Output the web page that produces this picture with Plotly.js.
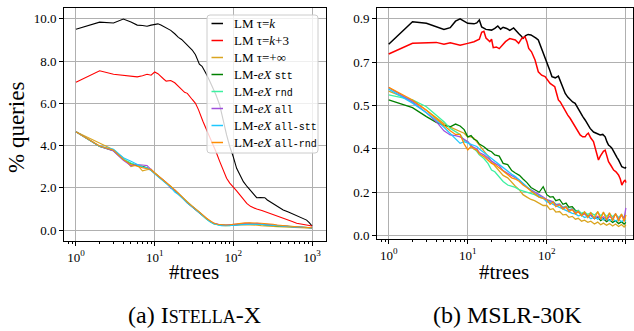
<!DOCTYPE html>
<html>
<head>
<meta charset="utf-8">
<script src="https://cdn.plot.ly/plotly-3.0.1.min.js"></script>
<style>html,body{margin:0;padding:0;background:#fff;}#chart{width:634px;height:331px;}</style>
</head>
<body>
<div id="chart"></div>
<script>
// ---------- Names ----------
const mono = s => '<span style="font-family:Liberation Mono;font-size:10px">' + s + '</span>';
const seriesNames = [
  'LM τ=<i>k</i>',
  'LM τ=<i>k</i>+3',
  'LM τ=+∞',
  'LM-<i>eX</i> ' + mono('stt'),
  'LM-<i>eX</i> ' + mono('rnd'),
  'LM-<i>eX</i> ' + mono('all'),
  'LM-<i>eX</i> ' + mono('all-stt'),
  'LM-<i>eX</i> ' + mono('all-rnd')
];
const seriesColors = ['#000000','#ff0000','#daa520','#008000','#3cf0a0','#a050dc','#1ec8ff','#ff8c00'];

// ---------- (a) ISTELLA-X ----------
const istBlackX = [1,2,3,4,5,6,7,8,9,10,11,12,13,14,15,16,18,20,22,25,28,30,33,35,37,40,43,46,50,55,60,67,75,82,90,95,100,110,120,134,150,163,180,198,220,251,270,292,330,380,430,500,560,637,700,760,853,920,1000];
const istBlackY = [9.50,9.84,9.80,9.99,9.85,9.70,9.68,9.65,9.70,9.73,9.76,9.70,9.64,9.58,9.51,9.45,9.29,9.12,9.02,8.80,8.60,8.52,8.30,8.05,7.85,7.75,7.55,7.34,7.05,6.72,6.40,5.92,5.10,4.50,3.95,3.71,3.45,2.92,2.62,2.29,2.05,1.89,1.70,1.53,1.54,1.53,1.42,1.34,1.20,1.05,0.95,0.85,0.77,0.71,0.62,0.55,0.47,0.35,0.19];

const istRedX = [1,2,3,4,5,6,7,8,9,10,11,12,13,14,16,18,21,24,26,28,30,33,36,41,45,50,55,60,67,75,82,90,100,110,121,135,148,165,180,198,230,260,292,350,431,500,560,637,750,850,1000];
const istRedY = [6.99,7.54,7.37,7.32,7.27,7.25,7.30,7.37,7.33,7.48,7.40,7.29,7.15,7.05,7.08,6.97,6.74,6.52,6.47,6.30,6.18,6.00,5.70,5.15,4.80,4.45,4.05,3.72,3.25,2.85,2.45,2.22,2.05,1.85,1.66,1.45,1.26,1.12,1.05,0.99,0.92,0.85,0.79,0.70,0.55,0.47,0.40,0.32,0.26,0.22,0.19];

const istX = [1,2,3,4,5,6,7,8,9,10,12,14,16,18,20,23,26,30,35,40,45,50,56,63,70,80,90,100,112,125,140,160,180,200,225,250,280,320,360,400,450,500,560,630,700,800,900,1000];
const istInf    = [4.65,4.10,3.80,3.40,3.00,3.08,2.80,2.85,2.88,2.72,2.47,2.27,2.07,1.90,1.75,1.52,1.32,1.13,0.93,0.73,0.56,0.43,0.31,0.25,0.22,0.21,0.21,0.22,0.23,0.24,0.25,0.25,0.24,0.23,0.21,0.19,0.18,0.17,0.16,0.15,0.14,0.13,0.12,0.11,0.10,0.10,0.09,0.09];
const istStt    = [4.65,3.95,3.75,3.33,3.15,3.05,3.02,2.95,2.83,2.69,2.44,2.26,2.04,1.87,1.72,1.49,1.29,1.11,0.91,0.71,0.54,0.41,0.31,0.26,0.23,0.22,0.23,0.25,0.27,0.29,0.30,0.31,0.30,0.29,0.28,0.26,0.24,0.22,0.20,0.19,0.17,0.16,0.15,0.14,0.13,0.12,0.12,0.11];
const istRnd    = [4.65,3.96,3.77,3.36,3.17,3.06,2.98,2.94,2.84,2.70,2.46,2.24,2.06,1.89,1.72,1.51,1.31,1.12,0.92,0.70,0.53,0.40,0.30,0.25,0.22,0.22,0.21,0.24,0.27,0.28,0.31,0.30,0.31,0.29,0.27,0.26,0.25,0.23,0.21,0.20,0.18,0.16,0.16,0.14,0.13,0.12,0.11,0.11];
const istAll    = [4.65,3.96,3.74,3.30,3.05,3.10,3.08,3.05,2.86,2.68,2.45,2.25,1.98,1.90,1.72,1.48,1.30,1.10,0.90,0.71,0.54,0.42,0.33,0.27,0.24,0.23,0.24,0.27,0.25,0.29,0.31,0.33,0.30,0.32,0.29,0.28,0.26,0.24,0.22,0.21,0.19,0.17,0.15,0.14,0.14,0.12,0.12,0.10];
const istAllStt = [4.65,3.97,3.82,3.42,3.25,3.10,2.98,2.93,2.82,2.66,2.40,2.20,2.02,1.80,1.68,1.47,1.27,1.10,0.90,0.70,0.53,0.40,0.30,0.24,0.21,0.20,0.20,0.22,0.23,0.25,0.27,0.28,0.28,0.27,0.26,0.25,0.24,0.22,0.20,0.19,0.17,0.16,0.15,0.14,0.13,0.12,0.11,0.10];
const istAllRnd = [4.65,3.98,3.78,3.33,3.10,3.00,2.95,2.90,2.85,2.70,2.47,2.27,2.07,1.90,1.75,1.52,1.32,1.14,0.94,0.74,0.57,0.44,0.33,0.27,0.25,0.24,0.25,0.28,0.30,0.32,0.34,0.34,0.35,0.33,0.32,0.31,0.30,0.27,0.24,0.22,0.20,0.18,0.17,0.15,0.14,0.13,0.12,0.11];

// ---------- (b) MSLR-30K ----------
const msBlackX = [1,2,3,4,5,6,7,8,9,10,12,13,14,15,17,20,22,24,26,28,31,34,38,41,44,47,50,54,58,63,68,73,78,86,93,100,108,116,128,140,148,155,163,171,184,197,212,228,245,264,284,305,328,353,390,430,473,510,547,575,603,635,665,700,733,770,807,850,889,940,980,1000];
const msBlackY = [0.794,0.888,0.881,0.867,0.856,0.863,0.890,0.900,0.890,0.881,0.879,0.883,0.895,0.866,0.856,0.853,0.860,0.870,0.857,0.865,0.860,0.852,0.862,0.848,0.839,0.830,0.819,0.830,0.835,0.833,0.828,0.820,0.812,0.777,0.745,0.715,0.690,0.660,0.655,0.662,0.640,0.625,0.610,0.590,0.575,0.563,0.555,0.549,0.530,0.514,0.495,0.480,0.460,0.445,0.430,0.425,0.418,0.420,0.410,0.390,0.376,0.370,0.363,0.350,0.335,0.325,0.314,0.300,0.286,0.282,0.280,0.285];

const msRedX = [1,2,4,5,6,8,10,12,14,15,16,17,19,20,21,23,25,27,30,34,40,44,48,53,56,59,64,71,78,86,95,110,126,133,140,148,155,163,171,184,197,212,228,245,264,284,305,320,335,360,389,420,450,475,497,520,547,575,603,650,700,750,807,850,889,940,980,1000];
const msRedY = [0.754,0.798,0.802,0.794,0.800,0.790,0.798,0.805,0.815,0.844,0.848,0.820,0.805,0.815,0.780,0.783,0.776,0.790,0.805,0.818,0.812,0.798,0.818,0.825,0.805,0.777,0.763,0.729,0.680,0.666,0.660,0.632,0.618,0.590,0.563,0.555,0.542,0.530,0.514,0.500,0.487,0.470,0.452,0.435,0.418,0.410,0.410,0.420,0.425,0.405,0.390,0.350,0.314,0.330,0.342,0.350,0.355,0.330,0.307,0.290,0.272,0.265,0.252,0.235,0.210,0.225,0.231,0.220];

const msX = [1,2,3,4,5,6,7,8,9,10,11,12,13,14,16,18,20,22,25,28,32,36,40,45,50,56,63,70,80,90,100,110,120,130,145,160,175,190,210,230,250,275,300,330,360,400,440,480,520,570,620,680,740,810,880,950,1000];
const msInf    = [0.600,0.560,0.520,0.490,0.465,0.450,0.440,0.430,0.425,0.410,0.410,0.404,0.390,0.375,0.350,0.330,0.305,0.290,0.270,0.250,0.240,0.220,0.205,0.190,0.170,0.160,0.150,0.145,0.135,0.125,0.125,0.108,0.112,0.098,0.100,0.086,0.088,0.076,0.080,0.068,0.072,0.060,0.064,0.055,0.060,0.048,0.056,0.045,0.052,0.043,0.050,0.040,0.048,0.038,0.046,0.036,0.045];
const msStt    = [0.563,0.531,0.494,0.470,0.458,0.452,0.463,0.455,0.440,0.410,0.415,0.400,0.395,0.380,0.369,0.355,0.348,0.335,0.330,0.300,0.295,0.270,0.260,0.250,0.235,0.220,0.200,0.190,0.180,0.203,0.170,0.160,0.162,0.145,0.150,0.130,0.135,0.118,0.120,0.105,0.100,0.090,0.095,0.080,0.085,0.070,0.078,0.062,0.070,0.058,0.066,0.055,0.062,0.050,0.058,0.048,0.055];
const msRnd    = [0.584,0.563,0.535,0.500,0.473,0.445,0.430,0.420,0.395,0.390,0.370,0.360,0.350,0.335,0.320,0.300,0.272,0.265,0.245,0.225,0.210,0.205,0.200,0.190,0.185,0.180,0.175,0.170,0.160,0.155,0.150,0.140,0.142,0.130,0.132,0.118,0.122,0.108,0.112,0.100,0.105,0.092,0.098,0.088,0.095,0.085,0.098,0.082,0.095,0.080,0.092,0.078,0.090,0.075,0.088,0.074,0.085];
const msAll    = [0.615,0.555,0.510,0.473,0.435,0.418,0.415,0.410,0.400,0.390,0.375,0.365,0.360,0.345,0.335,0.320,0.310,0.300,0.290,0.270,0.260,0.250,0.240,0.230,0.215,0.200,0.190,0.180,0.170,0.160,0.150,0.145,0.140,0.128,0.130,0.115,0.120,0.105,0.110,0.095,0.100,0.085,0.090,0.078,0.085,0.070,0.080,0.068,0.078,0.065,0.080,0.070,0.090,0.068,0.085,0.070,0.115];
const msAllStt = [0.608,0.550,0.510,0.480,0.450,0.425,0.400,0.383,0.390,0.385,0.380,0.375,0.370,0.360,0.345,0.330,0.320,0.310,0.295,0.280,0.265,0.255,0.245,0.230,0.215,0.200,0.188,0.175,0.165,0.155,0.140,0.138,0.130,0.125,0.118,0.112,0.105,0.100,0.092,0.090,0.082,0.085,0.075,0.080,0.070,0.078,0.068,0.075,0.065,0.073,0.062,0.070,0.060,0.068,0.058,0.066,0.060];
const msAllRnd = [0.615,0.563,0.520,0.485,0.455,0.435,0.420,0.420,0.380,0.356,0.370,0.360,0.355,0.340,0.328,0.315,0.300,0.295,0.280,0.270,0.255,0.240,0.235,0.225,0.210,0.200,0.185,0.175,0.160,0.155,0.148,0.130,0.140,0.120,0.128,0.110,0.118,0.100,0.108,0.090,0.100,0.082,0.098,0.075,0.095,0.070,0.100,0.068,0.098,0.065,0.095,0.062,0.092,0.060,0.090,0.058,0.085];

// Tick labels
const xTickVals = [1,10,100,1000];
const xTickText = ['10<sup>0</sup>','10<sup>1</sup>','10<sup>2</sup>','10<sup>3</sup>'];
const xMinorVals = [0.8,0.9,2,3,4,5,6,7,8,9,20,30,40,50,60,70,80,90,200,300,400,500,600,700,800,900];
const istYTickVals = [0,2,4,6,8,10];
const istYTickText = ['0.0','2.0','4.0','6.0','8.0','10.0'];
const msYTickVals = [0,0.18,0.36,0.54,0.72,0.9];
const msYTickText = ['0.0','0.2','0.4','0.5','0.7','0.9'];

// ---------- Traces ----------
const istSets = [[istBlackX,istBlackY],[istRedX,istRedY],[istX,istInf],[istX,istStt],[istX,istRnd],[istX,istAll],[istX,istAllStt],[istX,istAllRnd]];
const msSets  = [[msBlackX,msBlackY],[msRedX,msRedY],[msX,msInf],[msX,msStt],[msX,msRnd],[msX,msAll],[msX,msAllStt],[msX,msAllRnd]];

const traces = [];
istSets.forEach((s,i)=>{
  traces.push({x:s[0], y:s[1], type:'scatter', mode:'lines', name:seriesNames[i],
    line:{color:seriesColors[i], width:1.1}, xaxis:'x', yaxis:'y', showlegend:false});
});
msSets.forEach((s,i)=>{
  traces.push({x:s[0], y:s[1], type:'scatter', mode:'lines', name:seriesNames[i],
    line:{color:seriesColors[i], width:(i < 2 ? 1.5 : 1.3)}, xaxis:'x2', yaxis:'y2', showlegend:false});
});

const W = 634, H = 331;
const px = v => v / W, py = v => (H - v) / H;
const serif = 'Liberation Serif';
const axCommon = {
  showline:true, linecolor:'#000', linewidth:1, mirror:true,
  ticks:'outside', ticklen:4, tickcolor:'#000', tickwidth:1,
  showgrid:true, gridcolor:'#b0b0b0', gridwidth:1,
  zeroline:false, tickfont:{family:serif, size:13, color:'#000'}
};
const xCommon = Object.assign({}, axCommon, {
  type:'log', tickmode:'array', tickvals:xTickVals, ticktext:xTickText,
  minor:{tickmode:'array', tickvals:xMinorVals, ticks:'outside', ticklen:2, tickcolor:'#000', showgrid:false}
});

// ---------- Legend (drawn in the left panel, like the original) ----------
const legBox = {x0:207, x1:318, y0:15, y1:153, r:3};
const legFirstY = 23.5, legStep = 17, legLineX0 = 211.5, legLineX1 = 223, legTextX = 231.5;
const b = legBox;
const boxPath = 'M' + px(b.x0 + b.r) + ',' + py(b.y0) +
  ' L' + px(b.x1 - b.r) + ',' + py(b.y0) + ' Q' + px(b.x1) + ',' + py(b.y0) + ' ' + px(b.x1) + ',' + py(b.y0 + b.r) +
  ' L' + px(b.x1) + ',' + py(b.y1 - b.r) + ' Q' + px(b.x1) + ',' + py(b.y1) + ' ' + px(b.x1 - b.r) + ',' + py(b.y1) +
  ' L' + px(b.x0 + b.r) + ',' + py(b.y1) + ' Q' + px(b.x0) + ',' + py(b.y1) + ' ' + px(b.x0) + ',' + py(b.y1 - b.r) +
  ' L' + px(b.x0) + ',' + py(b.y0 + b.r) + ' Q' + px(b.x0) + ',' + py(b.y0) + ' ' + px(b.x0 + b.r) + ',' + py(b.y0) + ' Z';
const shapes = [{type:'path', xref:'paper', yref:'paper', path:boxPath, layer:'above',
  fillcolor:'rgba(255,255,255,0.8)', line:{color:'#cccccc', width:1}}];
const annotations = [];
seriesNames.forEach((nm,i)=>{
  const yy = legFirstY + legStep * i;
  shapes.push({type:'line', xref:'paper', yref:'paper', x0:px(legLineX0), x1:px(legLineX1), y0:py(yy), y1:py(yy),
    layer:'above', line:{color:seriesColors[i], width:1.5}});
  annotations.push({text:nm, xref:'paper', yref:'paper', x:px(legTextX), y:py(yy), xanchor:'left', yanchor:'middle',
    showarrow:false, font:{family:serif, size:13, color:'#000'}});
});

annotations.push(
  {text:'% queries', xref:'paper', yref:'paper', x:px(16), y:py(128), showarrow:false, textangle:-90,
    font:{family:serif, size:23, color:'#000'}, xanchor:'center', yanchor:'middle'},
  {text:'#trees', xref:'paper', yref:'paper', x:px(194), y:py(272), showarrow:false,
    font:{family:serif, size:21, color:'#000'}, xanchor:'center', yanchor:'middle'},
  {text:'#trees', xref:'paper', yref:'paper', x:px(504), y:py(272), showarrow:false,
    font:{family:serif, size:21, color:'#000'}, xanchor:'center', yanchor:'middle'},
  {text:'(a) I<span style="font-size:18px">STELLA</span>-X', xref:'paper', yref:'paper', x:px(194), y:py(315), showarrow:false,
    font:{family:serif, size:24, color:'#000'}, xanchor:'center', yanchor:'middle'},
  {text:'(b) MSLR-30K', xref:'paper', yref:'paper', x:px(507), y:py(315), showarrow:false,
    font:{family:serif, size:24, color:'#000'}, xanchor:'center', yanchor:'middle'}
);

const layout = {
  width:W, height:H,
  margin:{l:0,r:0,t:0,b:0},
  paper_bgcolor:'#fff', plot_bgcolor:'#fff',
  font:{family:serif, color:'#000'},
  showlegend:false,
  xaxis: Object.assign({}, xCommon, {domain:[px(64), px(326)], range:[-0.152, 3.177], anchor:'y'}),
  yaxis: Object.assign({}, axCommon, {domain:[py(241), py(8)], range:[-0.52, 10.51], anchor:'x',
    tickmode:'array', tickvals:istYTickVals, ticktext:istYTickText}),
  xaxis2: Object.assign({}, xCommon, {domain:[px(377), px(633)], range:[-0.148, 3.09], anchor:'y2'}),
  yaxis2: Object.assign({}, axCommon, {domain:[py(239), py(7.7)], range:[-0.014, 0.946], anchor:'x2',
    tickmode:'array', tickvals:msYTickVals, ticktext:msYTickText}),
  shapes: shapes,
  annotations: annotations
};

Plotly.newPlot('chart', traces, layout, {staticPlot:true, displayModeBar:false});
</script>
</body>
</html>
